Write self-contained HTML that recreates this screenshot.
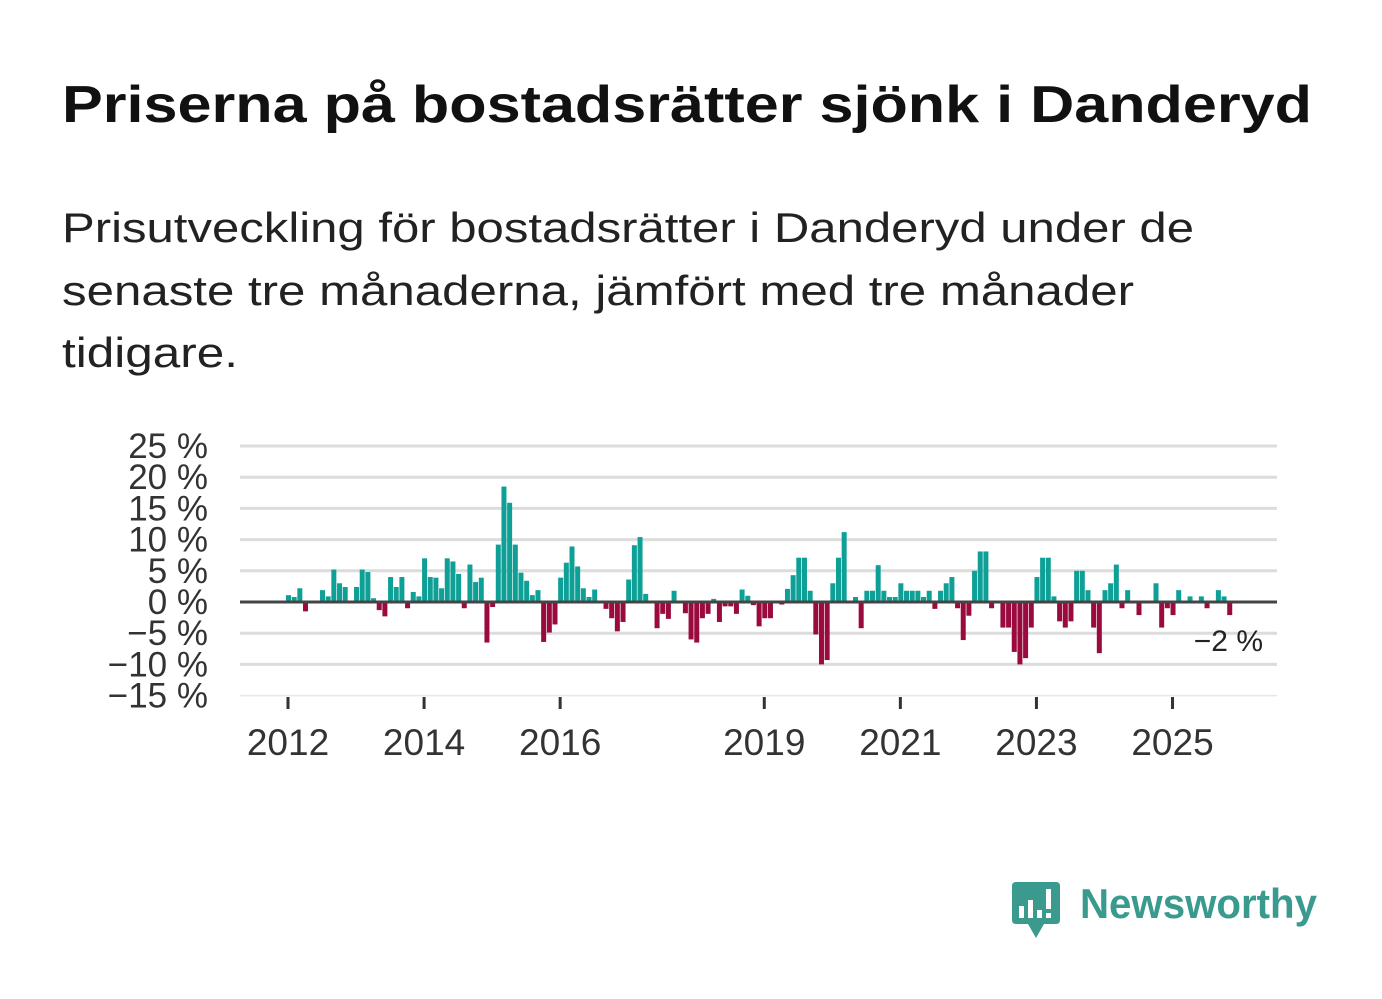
<!DOCTYPE html>
<html><head><meta charset="utf-8"><style>
html,body{margin:0;padding:0;background:#fff;}
svg{display:block;font-family:"Liberation Sans",sans-serif;}
</style></head><body>
<svg id="chart" width="1382" height="999" viewBox="0 0 1382 999">
<text x="62" y="122" font-size="52" font-weight="bold" fill="#111" textLength="1250" lengthAdjust="spacingAndGlyphs">Priserna på bostadsrätter sjönk i Danderyd</text>
<g fill="#222" font-size="42">
<text x="62" y="242" textLength="1132" lengthAdjust="spacingAndGlyphs">Prisutveckling för bostadsrätter i Danderyd under de</text>
<text x="62" y="305" textLength="1072" lengthAdjust="spacingAndGlyphs">senaste tre månaderna, jämfört med tre månader</text>
<text x="62" y="367" textLength="176" lengthAdjust="spacingAndGlyphs">tidigare.</text>
</g>
<g id="grid"></g>
<g id="ylabels"></g>
<g id="bars"></g>
<g id="xaxis"></g>
<text x="1263" y="651" font-size="30" fill="#222" text-anchor="end">−2 %</text>
<g>
<path d="M1016 882 H1056 Q1060 882 1060 886 V920 Q1060 924 1056 924 H1044 L1036 938 L1028 924 H1016 Q1012 924 1012 920 V886 Q1012 882 1016 882 Z" fill="#3a9a8e"/>
<rect x="1019" y="906" width="5" height="12" fill="#fff"/>
<rect x="1028" y="900" width="5" height="18" fill="#fff"/>
<rect x="1037" y="910" width="5" height="8" fill="#fff"/>
<rect x="1046" y="889" width="5" height="20" fill="#fff"/>
<rect x="1046" y="913" width="5" height="5" fill="#fff"/>
<text x="1080" y="918" font-size="42" font-weight="bold" fill="#3a9a8e" textLength="237" lengthAdjust="spacingAndGlyphs">Newsworthy</text>
</g>
</svg>
<script>
const yTicks = [25, 20, 15, 10, 5, 0, -5, -10, -15];
const yTickLabels = ["25 %", "20 %", "15 %", "10 %", "5 %", "0 %", "−5 %", "−10 %", "−15 %"];
const xTickYears = [2012, 2014, 2016, 2019, 2021, 2023, 2025];
const startYear = 2012;
const values = [
1.1,0.8,2.2,-1.5,0,0,1.9,0.9,5.2,3.0,2.4,0,
2.4,5.2,4.8,0.6,-1.3,-2.3,4.0,2.4,4.0,-1.0,1.6,0.9,
7.0,4.0,3.9,2.2,7.0,6.5,4.5,-1.0,6.0,3.2,3.9,-6.5,
-0.8,9.2,18.5,15.9,9.2,4.7,3.4,1.1,1.9,-6.4,-4.9,-3.6,
3.9,6.3,8.9,5.7,2.2,0.8,2.0,0,-1.1,-2.6,-4.7,-3.2,
3.6,9.1,10.4,1.3,0,-4.2,-1.9,-2.7,1.8,0,-1.8,-6.0,
-6.5,-2.6,-1.9,0.5,-3.2,-0.7,-0.7,-1.9,2.0,1.0,-0.5,-3.9,
-2.6,-2.6,0,-0.4,2.1,4.3,7.1,7.1,1.8,-5.2,-10.0,-9.3,
3.0,7.1,11.2,0,0.8,-4.2,1.8,1.8,5.9,1.8,0.8,0.8,
3.0,1.8,1.8,1.8,0.8,1.8,-1.1,1.8,3.0,4.0,-1.0,-6.1,
-2.2,5.0,8.1,8.1,-1.0,0,-4.1,-4.1,-8.0,-10.0,-9.0,-4.1,
4.0,7.1,7.1,0.9,-3.1,-4.1,-3.1,5.0,5.0,1.9,-4.1,-8.2,
1.9,3.0,6.0,-1.0,1.9,0,-2.1,0,0,3.0,-4.1,-1.0,
-2.1,1.9,0,0.9,0,0.9,-1.0,0,1.9,0.9,-2.1
];
const NS = "http://www.w3.org/2000/svg";
const X0 = 240, X1 = 1277;
function yScale(v){ return 602 - v * 6.24; }
function monthX(i){ return 288 + i * 5.67; }
function yearX(y){ return monthX((y - startYear) * 12); }
function mk(tag, attrs, parent){ const e=document.createElementNS(NS,tag); for(const k in attrs) e.setAttribute(k,attrs[k]); parent.appendChild(e); return e; }
const grid=document.getElementById('grid'), yl=document.getElementById('ylabels'), bars=document.getElementById('bars'), xa=document.getElementById('xaxis');
yTicks.forEach((t,i)=>{
  if(t!==0){
    const l=mk('line',{x1:X0,x2:X1,y1:yScale(t),y2:yScale(t),stroke:t===-15?'#e6e6e6':'#dcdcdc','stroke-width':t===-15?1.5:3},grid);
    
    
  }
  const tx=mk('text',{x:208,y:yScale(t)+12,'font-size':35,fill:'#333','text-anchor':'end'},yl);
  tx.textContent=yTickLabels[i];
  
  
});
values.forEach((v,i)=>{
  if(v===0) return;
  const y=v>0?yScale(v):yScale(0);
  const r=mk('rect',{x:monthX(i)-2,y:y,width:5,height:Math.abs(yScale(v)-yScale(0)),fill:v>0?'#0ea096':'#9a0a3e'},bars);
  
  
});
const zl=mk('line',{x1:X0,x2:X1,y1:yScale(0),y2:yScale(0),stroke:'#444','stroke-width':3},bars);


xTickYears.forEach(y=>{
  const x=yearX(y);
  const tk=mk('line',{x1:x,x2:x,y1:697,y2:709,stroke:'#333','stroke-width':3},xa);
  
  
  const tx=mk('text',{x:x,y:755,'font-size':37,fill:'#333','text-anchor':'middle'},xa);
  tx.textContent=String(y);
  
  
});
</script>
</body></html>
